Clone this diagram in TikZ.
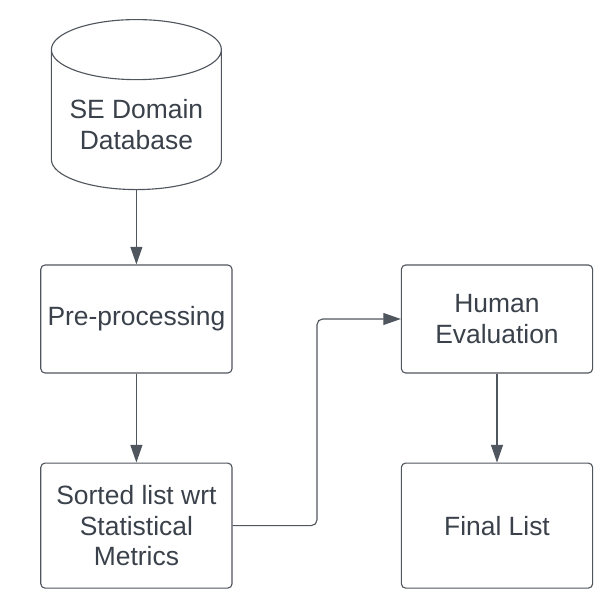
\documentclass[tikz,border=0pt]{standalone}
\usepackage{fontspec}
\setmainfont{Liberation Sans}
\usetikzlibrary{shapes.geometric,arrows.meta}
\definecolor{inkgray}{RGB}{58,65,74}
\definecolor{linegray}{RGB}{80,86,94}

\tikzset{
  box/.style={draw=linegray, rounded corners=3pt, minimum width=4.78cm, align=center, text=inkgray, font=\fontsize{18.8}{21.7}\selectfont},
}

\begin{document}
\begin{tikzpicture}[>={Triangle[length=12.5pt,width=8.5pt]}, line width=0.8pt]
\useasboundingbox (0,0) rectangle (15.35,-15.25);

\node[cylinder, shape border rotate=90, aspect=0.42, draw=linegray, minimum width=4.25cm, minimum height=4.25cm, align=center, text=inkgray, font=\fontsize{18.8}{21.7}\selectfont] at (3.41, -3.12) (db) {SE Domain\\Database};
\node[box, minimum height=2.7cm] at (3.41, -7.975) (pre) {Pre-processing};
\node[box, minimum height=3.125cm] at (3.41, -13.14) (sorted) {Sorted list wrt\\Statistical\\Metrics};
\node[box, minimum height=2.7cm] at (12.425, -7.975) (human) {Human\\Evaluation};
\node[box, minimum height=3.125cm] at (12.425, -13.14) (final) {Final List};
\coordinate (bend) at (7.925, -7.975);

    \draw [->, linegray] (db) -- (pre);
    \draw [->, linegray] (pre) -- (sorted);
    \draw [->, linegray, rounded corners=4pt] (sorted.east) -| (bend) -- (human.west);
    \draw [->, linegray] (human) -- (final);
\end{tikzpicture}
\end{document}
